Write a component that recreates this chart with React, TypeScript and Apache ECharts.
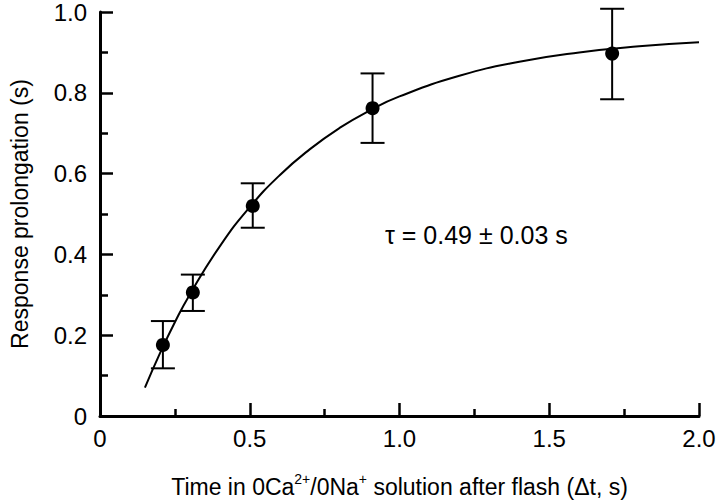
import React, { useEffect, useRef } from "react";
import * as echarts from "echarts";

// Measured points (time after flash, s) and response prolongation (s)
const pointX = [0.21, 0.31, 0.51, 0.91, 1.71];
const pointY = [0.176, 0.306, 0.52, 0.762, 0.897];
const errLow = [0.118, 0.26, 0.466, 0.676, 0.784];
const errHigh = [0.235, 0.35, 0.576, 0.848, 1.008];

// Fitted curve
const curveX = [0.15, 0.2, 0.25, 0.3, 0.4, 0.5, 0.6, 0.7, 0.8, 0.9, 1.0, 1.2, 1.4, 1.6, 1.8, 2.0];
const curveY = [0.07, 0.155, 0.232, 0.301, 0.42, 0.517, 0.596, 0.66, 0.713, 0.756, 0.791, 0.842, 0.877, 0.9, 0.915, 0.925];

const xTicks = ["0", "0.5", "1.0", "1.5", "2.0"];
const yTicks = ["0", "0.2", "0.4", "0.6", "0.8", "1.0"];

const annotation = "τ = 0.49 ± 0.03 s";

const FONT = "'Liberation Sans', Arial, Helvetica, sans-serif";

export default function App() {
  const ref = useRef<HTMLDivElement>(null);

  useEffect(() => {
    if (!ref.current) return;
    document.body.style.margin = "0";
    const chart = echarts.init(ref.current, null, { renderer: "svg" });

    const xLabelMap: Record<string, string> = {};
    [0, 0.5, 1, 1.5, 2].forEach((v, i) => (xLabelMap[String(v)] = xTicks[i]));
    const yLabelMap: Record<string, string> = {};
    [0, 0.2, 0.4, 0.6, 0.8, 1].forEach((v, i) => (yLabelMap[String(Math.round(v * 10) / 10)] = yTicks[i]));

    const errData = pointX.map((x, i) => [x, errLow[i], errHigh[i]]);

    chart.setOption({
      animation: false,
      backgroundColor: "#ffffff",
      textStyle: { fontFamily: FONT },
      grid: { left: 98, right: 21, top: 11, bottom: 84, containLabel: false },
      xAxis: {
        type: "value",
        min: 0,
        max: 2,
        interval: 0.5,
        splitLine: { show: false },
        axisLine: { show: true, onZero: false, lineStyle: { color: "#000", width: 3 } },
        axisTick: { show: true, inside: true, length: 13, lineStyle: { color: "#000", width: 2.5 } },
        minorTick: { show: true, splitNumber: 2, length: 7, lineStyle: { color: "#000", width: 2.5 } },
        axisLabel: {
          color: "#000",
          fontSize: 24,
          fontFamily: FONT,
          margin: 10,
          formatter: (v: number) => xLabelMap[String(Math.round(v * 10) / 10)] ?? String(v),
        },
        name: "{a|Time in 0Ca}{s|2+}{a|/0Na}{s|+}{a| solution after flash (Δt, s)}",
        nameLocation: "middle",
        nameGap: 56,
        nameTextStyle: {
          color: "#000",
          fontFamily: FONT,
          rich: {
            a: { fontSize: 23, color: "#000", fontFamily: FONT, verticalAlign: "bottom", lineHeight: 26 },
            s: { fontSize: 14, color: "#000", fontFamily: FONT, verticalAlign: "top", lineHeight: 26, padding: [0, 0, 6, 0] },
          },
        },
      },
      yAxis: {
        type: "value",
        min: 0,
        max: 1,
        interval: 0.2,
        splitLine: { show: false },
        axisLine: { show: true, onZero: false, lineStyle: { color: "#000", width: 3 } },
        axisTick: { show: true, inside: true, length: 13, lineStyle: { color: "#000", width: 2.5 } },
        minorTick: { show: true, splitNumber: 2, length: 8, lineStyle: { color: "#000", width: 2.5 } },
        axisLabel: {
          color: "#000",
          fontSize: 24,
          fontFamily: FONT,
          margin: 13,
          formatter: (v: number) => yLabelMap[String(Math.round(v * 10) / 10)] ?? String(v),
        },
        name: "Response prolongation (s)",
        nameLocation: "middle",
        nameGap: 69,
        nameTextStyle: { color: "#000", fontSize: 23, fontFamily: FONT },
      },
      graphic: [
        {
          type: "text",
          left: 385,
          top: 222,
          style: { text: annotation, fill: "#000", fontSize: 25, fontFamily: FONT },
        },
      ],
      series: [
        {
          type: "line",
          data: curveX.map((x, i) => [x, curveY[i]]),
          smooth: true,
          showSymbol: false,
          lineStyle: { color: "#000", width: 2 },
          z: 2,
        },
        {
          type: "custom",
          data: errData,
          z: 3,
          renderItem: (params: any, api: any) => {
            const x = api.value(0);
            const lo = api.coord([x, api.value(1)]);
            const hi = api.coord([x, api.value(2)]);
            const hw = 12;
            const st = { stroke: "#000", lineWidth: 2 };
            return {
              type: "group",
              children: [
                { type: "line", shape: { x1: lo[0], y1: lo[1], x2: hi[0], y2: hi[1] }, style: st },
                { type: "line", shape: { x1: lo[0] - hw, y1: lo[1], x2: lo[0] + hw, y2: lo[1] }, style: st },
                { type: "line", shape: { x1: hi[0] - hw, y1: hi[1], x2: hi[0] + hw, y2: hi[1] }, style: st },
              ],
            };
          },
        },
        {
          type: "scatter",
          data: pointX.map((x, i) => [x, pointY[i]]),
          symbol: "circle",
          symbolSize: 14,
          itemStyle: { color: "#000", opacity: 1 },
          z: 4,
        },
      ],
    });

    return () => chart.dispose();
  }, []);

  return <div ref={ref} style={{ width: 720, height: 503 }} />;
}
